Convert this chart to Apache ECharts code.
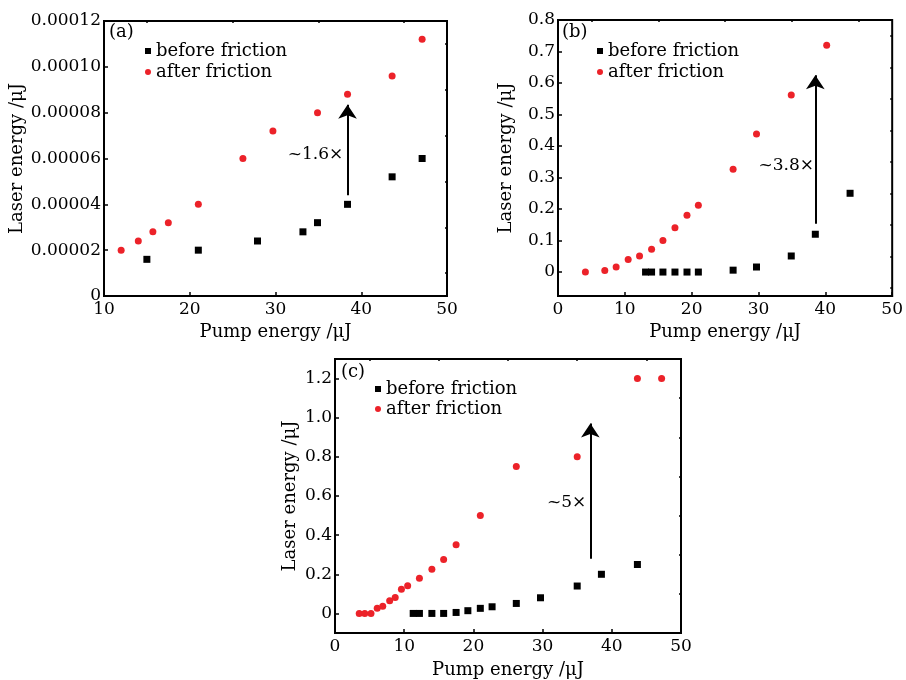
<!DOCTYPE html>
<html>
<head>
<meta charset="utf-8">
<script src="https://cdn.jsdelivr.net/npm/echarts@6/dist/echarts.min.js"></script>
<style>
  html, body { margin: 0; padding: 0; background: #fff; }
  #main { width: 906px; height: 680px; }
</style>
</head>
<body>
<div id="main"></div>
<script>
// ---- data ----
// panel (a)
var pumpA_before = [15.0, 21.0, 27.9, 33.2, 34.9, 38.4, 43.6, 47.1];
var laserA_before = [0.000016, 0.00002, 0.000024, 0.000028, 0.000032, 0.00004, 0.000052, 0.00006];
var pumpA_after = [12.0, 14.0, 15.7, 17.5, 21.0, 26.2, 29.7, 34.9, 38.4, 43.6, 47.1];
var laserA_after = [0.00002, 0.000024, 0.000028, 0.000032, 0.00004, 0.00006, 0.000072, 0.00008, 0.000088, 0.000096, 0.000112];

// panel (b)
var pumpB_before = [13.1, 14.0, 15.7, 17.5, 19.3, 21.0, 26.2, 29.7, 34.9, 38.5, 43.7];
var laserB_before = [0, 0, 0, 0, 0, 0, 0.006, 0.016, 0.051, 0.12, 0.25];
var pumpB_after = [4.1, 7.0, 8.7, 10.5, 12.2, 14.0, 15.7, 17.5, 19.3, 21.0, 26.2, 29.7, 34.9, 40.2];
var laserB_after = [0, 0.005, 0.016, 0.04, 0.051, 0.072, 0.1, 0.141, 0.18, 0.212, 0.326, 0.438, 0.562, 0.72];

// panel (c)
var pumpC_before = [11.3, 12.2, 14.0, 15.7, 17.5, 19.2, 21.0, 22.7, 26.2, 29.7, 35.0, 38.5, 43.7];
var laserC_before = [0, 0, 0, 0, 0.005, 0.014, 0.026, 0.034, 0.051, 0.08, 0.14, 0.2, 0.25];
var pumpC_after = [3.5, 4.3, 5.2, 6.1, 6.9, 7.9, 8.7, 9.6, 10.5, 12.2, 14.0, 15.7, 17.5, 21.0, 26.2, 35.0, 43.7, 47.2];
var laserC_after = [0, 0, 0, 0.027, 0.037, 0.065, 0.082, 0.124, 0.141, 0.18, 0.226, 0.276, 0.351, 0.5, 0.751, 0.8, 1.2, 1.2];

// tick values
var xTicksA = [10, 20, 30, 40, 50];
var xMinorA = [15, 25, 35, 45];
var xTicksBC = [0, 10, 20, 30, 40, 50];
var xMinorBC = [5, 15, 25, 35, 45];
var yTicksA = [0, 0.00002, 0.00004, 0.00006, 0.00008, 0.0001, 0.00012];
var yMinorA = [0.00001, 0.00003, 0.00005, 0.00007, 0.00009, 0.00011];
var yTicksB = [0, 0.1, 0.2, 0.3, 0.4, 0.5, 0.6, 0.7, 0.8];
var yMinorB = [-0.05, 0.05, 0.15, 0.25, 0.35, 0.45, 0.55, 0.65, 0.75];
var yTicksC = [0, 0.2, 0.4, 0.6, 0.8, 1.0, 1.2];
var yMinorC = [0.1, 0.3, 0.5, 0.7, 0.9, 1.1];

// annotations: arrow [x, yFrom, yTo], text [x, y, label]
var arrowA = [38.4, 0.000044, 0.0000835];
var noteA = [37.9, 0.0000619, '~1.6×'];
var arrowB = [38.5, 0.153, 0.625];
var noteB = [38.3, 0.338, '~3.8×'];
var arrowC = [36.9, 0.279, 0.97];
var noteC = [36.3, 0.565, '~5×'];

var FONT = 'DejaVu Serif';
var RED = '#ec2229';

function zip(xs, ys) {
	var out = [];
	for (var i = 0; i < xs.length; i++) out.push([xs[i], ys[i]]);
	return out;
}

// one main axis with labels + an overlaid axis carrying only the minor ticks
function axisPair(dim, grid, min, max, majors, minors, fmt, nameGap) {
	var main = {
		type: 'value', gridIndex: grid, min: min, max: max,
		name: dim === 'x' ? 'Pump energy /μJ' : 'Laser energy /μJ',
		nameLocation: 'middle', nameGap: nameGap,
		nameTextStyle: { fontFamily: FONT, fontSize: 18, color: '#000' },
		axisLine: { show: true, onZero: false, lineStyle: { color: '#000', width: 2 } },
		axisTick: { show: true, inside: true, length: 4, customValues: majors, lineStyle: { color: '#000', width: 1.5 } },
		axisLabel: { show: true, customValues: majors, margin: dim === 'x' ? 5 : 3, formatter: fmt,
			fontFamily: FONT, fontSize: 17, color: '#000' },
		splitLine: { show: false }
	};
	var minor = {
		type: 'value', gridIndex: grid, min: min, max: max,
		axisLine: { show: false, onZero: false },
		axisTick: { show: true, inside: true, length: 2, customValues: minors, lineStyle: { color: '#000', width: 1.5 } },
		axisLabel: { show: false },
		splitLine: { show: false }
	};
	return [main, minor];
}

function fmtA(v) { return v === 0 ? '0' : v.toFixed(5); }
function fmt1(v) { return v === 0 ? '0' : v.toFixed(1); }
function fmtInt(v) { return String(v); }

function annot(arrow, note) {
	return {
		markLine: {
			silent: true, animation: false,
			symbol: ['none', 'arrow'], symbolSize: 14,
			lineStyle: { color: '#000', width: 2, type: 'solid', opacity: 1 },
			itemStyle: { color: '#000' },
			label: { show: false },
			data: [[{ coord: [arrow[0], arrow[1]] }, { coord: [arrow[0], arrow[2]] }]]
		},
		markPoint: {
			silent: true, animation: false,
			symbol: 'circle', symbolSize: 0,
			data: [{ coord: [note[0], note[1]] }],
			label: { show: true, position: 'left', distance: 0, formatter: note[2],
				fontFamily: FONT, fontSize: 17, color: '#000' }
		}
	};
}

function scatter(name, grid, xs, ys, extra) {
	var s = {
		name: name, type: 'scatter',
		xAxisIndex: grid * 2, yAxisIndex: grid * 2,
		symbol: name === 'before friction' ? 'rect' : 'circle',
		symbolSize: 7,
		itemStyle: { color: name === 'before friction' ? '#000' : RED, opacity: 1 },
		data: zip(xs, ys)
	};
	if (extra) { for (var k in extra) s[k] = extra[k]; }
	return s;
}

function legendAt(left, top, gap) {
	return {
		orient: 'vertical', left: left, top: top, padding: 0,
		itemWidth: 6, itemHeight: 6, itemGap: gap, selectedMode: false,
		textStyle: { fontFamily: FONT, fontSize: 18, color: '#000', lineHeight: 18 },
		data: [{ name: 'before friction', icon: 'rect' }, { name: 'after friction', icon: 'circle' }]
	};
}

var gridStyle = { show: true, borderColor: '#000', borderWidth: 2, containLabel: false };

var xAxes = [].concat(
	axisPair('x', 0, 10, 50, xTicksA, xMinorA, fmtInt, 27),
	axisPair('x', 1, 0, 50, xTicksBC, xMinorBC, fmtInt, 27),
	axisPair('x', 2, 0, 50, xTicksBC, xMinorBC, fmtInt, 28)
);
var yAxes = [].concat(
	axisPair('y', 0, 0, 0.00012, yTicksA, yMinorA, fmtA, 75),
	axisPair('y', 1, -0.076, 0.8, yTicksB, yMinorB, fmt1, 43),
	axisPair('y', 2, -0.1, 1.3, yTicksC, yMinorC, fmt1, 36)
);

var myChart = echarts.init(document.getElementById('main'), null, { renderer: 'canvas' });
var option = {
	animation: false,
	backgroundColor: '#fff',
	grid: [
		Object.assign({ left: 104, top: 21, width: 343, height: 275 }, gridStyle),
		Object.assign({ left: 558, top: 20, width: 336, height: 276 }, gridStyle),
		Object.assign({ left: 335, top: 359, width: 346, height: 274 }, gridStyle)
	],
	xAxis: xAxes,
	yAxis: yAxes,
	legend: [legendAt(145, 42, 3), legendAt(597, 42, 3), legendAt(375, 380, 2)],
	graphic: [
		{ type: 'text', left: 109, top: 23, style: { text: '(a)', font: '18px "DejaVu Serif"', fill: '#000' } },
		{ type: 'text', left: 562, top: 23, style: { text: '(b)', font: '18px "DejaVu Serif"', fill: '#000' } },
		{ type: 'text', left: 341, top: 363, style: { text: '(c)', font: '18px "DejaVu Serif"', fill: '#000' } }
	],
	series: [
		scatter('before friction', 0, pumpA_before, laserA_before),
		scatter('after friction', 0, pumpA_after, laserA_after, annot(arrowA, noteA)),
		scatter('before friction', 1, pumpB_before, laserB_before),
		scatter('after friction', 1, pumpB_after, laserB_after, annot(arrowB, noteB)),
		scatter('before friction', 2, pumpC_before, laserC_before),
		scatter('after friction', 2, pumpC_after, laserC_after, annot(arrowC, noteC))
	]
};
myChart.setOption(option);
</script>
</body>
</html>
